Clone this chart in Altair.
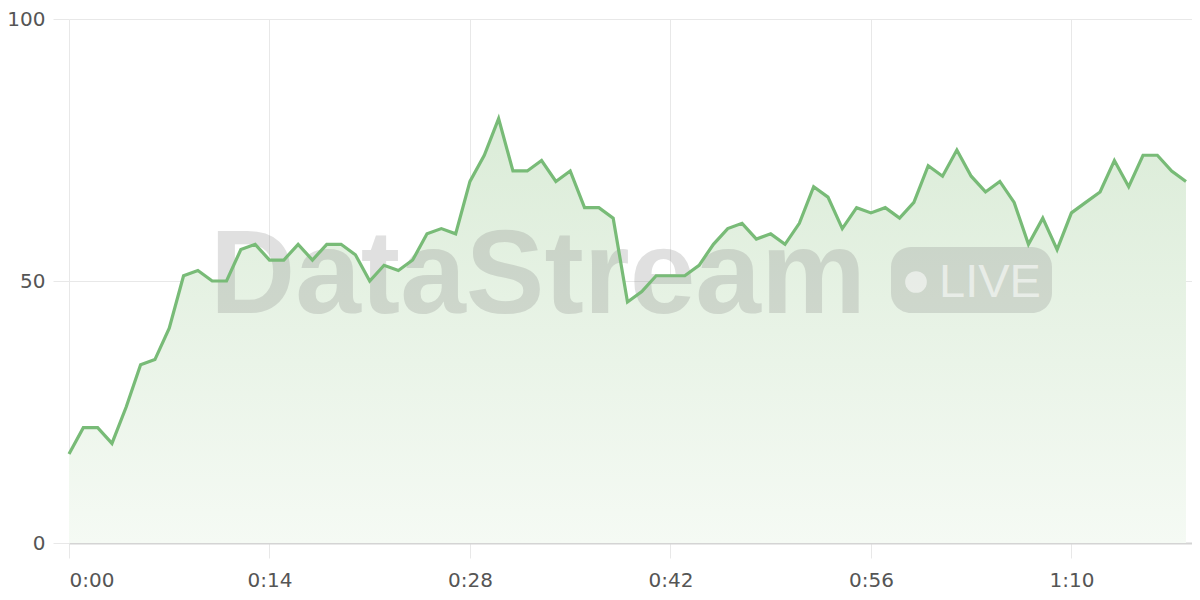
import altair as alt
import pandas as pd

# ---- data ----
seconds = list(range(79))
values = [17, 22, 22, 19, 26, 34, 35, 41, 51, 52,
          50, 50, 56, 57, 54, 54, 57, 54, 57, 57,
          55, 50, 53, 52, 54, 59, 60, 59, 69, 74,
          81, 71, 71, 73, 69, 71, 64, 64, 62, 46,
          48, 51, 51, 51, 53, 57, 60, 61, 58, 59,
          57, 61, 68, 66, 60, 64, 63, 64, 62, 65,
          72, 70, 75, 70, 67, 69, 65, 57, 62, 56,
          63, 65, 67, 73, 68, 74, 74, 71, 69]
x_ticks = [0, 14, 28, 42, 56, 70]
y_ticks = [0, 50, 100]
watermark_text = ["DataStream"]
badge_text = ["LIVE"]

df = pd.DataFrame({"t": seconds, "v": values})

LINE = "#78bb77"
GRID = "#e8e8e8"
LABEL_FONT = "DejaVu Sans"

x_enc = alt.X(
    "t:Q",
    scale=alt.Scale(domain=[0, 78.42], nice=False, zero=False),
    axis=alt.Axis(
        values=x_ticks,
        labelExpr="floor(datum.value/60) + ':' + (datum.value % 60 < 10 ? '0' : '') + (datum.value % 60)",
        title=None,
        grid=True,
        gridColor=GRID,
        tickColor=GRID,
        tickSize=15,
        domain=True,
        domainColor="#d4d4d4",
        domainWidth=2,
        labelFontSize=20,
        labelFont=LABEL_FONT,
        labelColor="#555555",
        labelPadding=12,
    ),
)
y_enc = alt.Y(
    "v:Q",
    scale=alt.Scale(domain=[0, 100], nice=False),
    axis=alt.Axis(
        values=y_ticks,
        title=None,
        grid=True,
        gridColor=GRID,
        tickColor=GRID,
        tickSize=16,
        domain=False,
        labelFontSize=20,
        labelFont=LABEL_FONT,
        labelColor="#555555",
        labelPadding=8,
    ),
)

gradient = alt.Gradient(
    gradient="linear",
    stops=[
        alt.GradientStop(color="#dbecd8", offset=0),
        alt.GradientStop(color="#f5faf4", offset=1),
    ],
    x1=1, x2=1, y1=0, y2=1,
)

base = alt.Chart(df)
area = base.mark_area(color=gradient).encode(x=x_enc, y=y_enc)
line = base.mark_line(color=LINE, strokeWidth=3.2).encode(x="t:Q", y="v:Q")

wm_df = pd.DataFrame({"label": watermark_text})
badge_df = pd.DataFrame({"label": badge_text})

wm = alt.Chart(wm_df).mark_text(
    font="Liberation Sans", fontWeight="bold", fontSize=118,
    color="#808080", opacity=0.24, align="left", baseline="alphabetic",
).encode(text="label:N", x=alt.value(141), y=alt.value(294))

badge = alt.Chart(badge_df).mark_rect(
    cornerRadius=20, color="#808080", opacity=0.24,
).encode(x=alt.value(822), x2=alt.value(983), y=alt.value(228), y2=alt.value(294))

dot = alt.Chart(badge_df).mark_point(
    filled=True, shape="circle", size=470, color="white", opacity=0.55,
).encode(x=alt.value(847), y=alt.value(263))

live = alt.Chart(badge_df).mark_text(
    font="Liberation Sans", fontSize=47, color="white", opacity=0.55,
    align="left", baseline="alphabetic",
).encode(text="label:N", x=alt.value(870), y=alt.value(278))

chart = alt.layer(area, wm, badge, dot, live, line).properties(
    width=1123,
    height=524,
    autosize=alt.AutoSizeParams(type="none"),
    padding={"left": 61, "top": 11, "right": 0, "bottom": 49},
).configure_view(stroke=None)

chart.save("out.html", embed_options={"renderer": "svg", "actions": False})
